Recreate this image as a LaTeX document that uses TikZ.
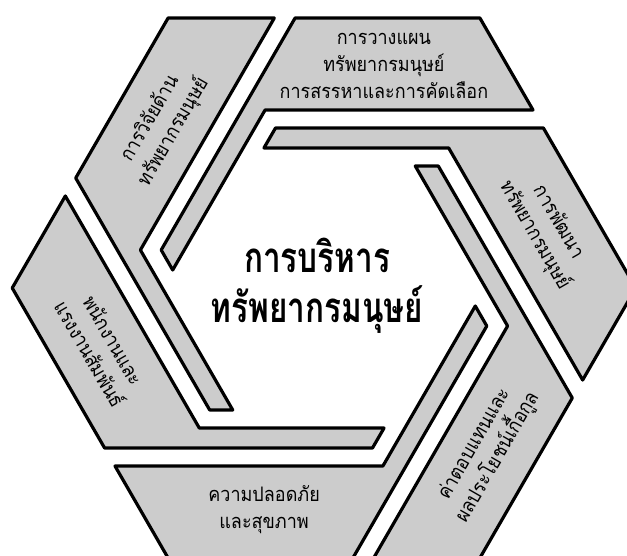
\documentclass[tikz,border=0pt]{standalone}
\usepackage{fontspec}
\newfontfamily\thaifont[Script=Thai,FakeStretch=0.9]{Loma}
\newfontfamily\thaititle[Script=Thai,FakeStretch=0.75]{Loma}

% one hook: wide band on the top side, thin strip down the upper left side
\newcommand{\hookshape}{(155.9,270) -- (209.0,178) -- (-58.9,178) -- (-151.3,18)
  -- (-162.8,38) -- (-28.9,270) -- cycle}

\tikzset{
  piece/.style={draw=black, line width=3.2pt, fill=black!20, line join=round},
  bandtext/.style={font=\thaifont\fontsize{20}{27}\selectfont, align=center},
  hubtext/.style={font=\thaititle\bfseries\fontsize{42}{50}\selectfont, align=center},
}

\begin{document}
\begin{tikzpicture}[x=1pt,y=1pt]
  \useasboundingbox (-324,-267) rectangle (303,288);
  \clip (-324,-267) rectangle (303,288);

  % --- top ---
  \draw[piece] \hookshape;
  \node[bandtext] (plan) at (74.9:230)
    {การวางแผน\\ทรัพยากรมนุษย์\\การสรรหาและการคัดเลือก};

  % --- upper right ---
  \draw[piece, rotate=-60] \hookshape;
  \node[bandtext, rotate=-60] (develop) at (14.9:230)
    {การพัฒนา\\ทรัพยากรมนุษย์};

  % --- lower right ---
  \draw[piece, rotate=-120] \hookshape;
  \node[bandtext, rotate=60] (pay) at (-45.1:230)
    {ค่าตอบแทนและ\\ผลประโยชน์เกื้อกูล};

  % --- bottom ---
  \draw[piece, rotate=180] \hookshape;
  \node[bandtext] (safety) at (-105.1:230)
    {ความปลอดภัย\\และสุขภาพ};

  % --- lower left ---
  \draw[piece, rotate=120] \hookshape;
  \node[bandtext, rotate=-60] (labour) at (-165.1:230)
    {พนักงานและ\\แรงงานสัมพันธ์};

  % --- upper left ---
  \draw[piece, rotate=60] \hookshape;
  \node[bandtext, rotate=60] (research) at (134.9:230)
    {การวิจัยด้าน\\ทรัพยากรมนุษย์};

  % --- centre ---
  \node[hubtext] (hrm) at (-7,2) {การบริหาร\\ทรัพยากรมนุษย์};
\end{tikzpicture}
\end{document}
